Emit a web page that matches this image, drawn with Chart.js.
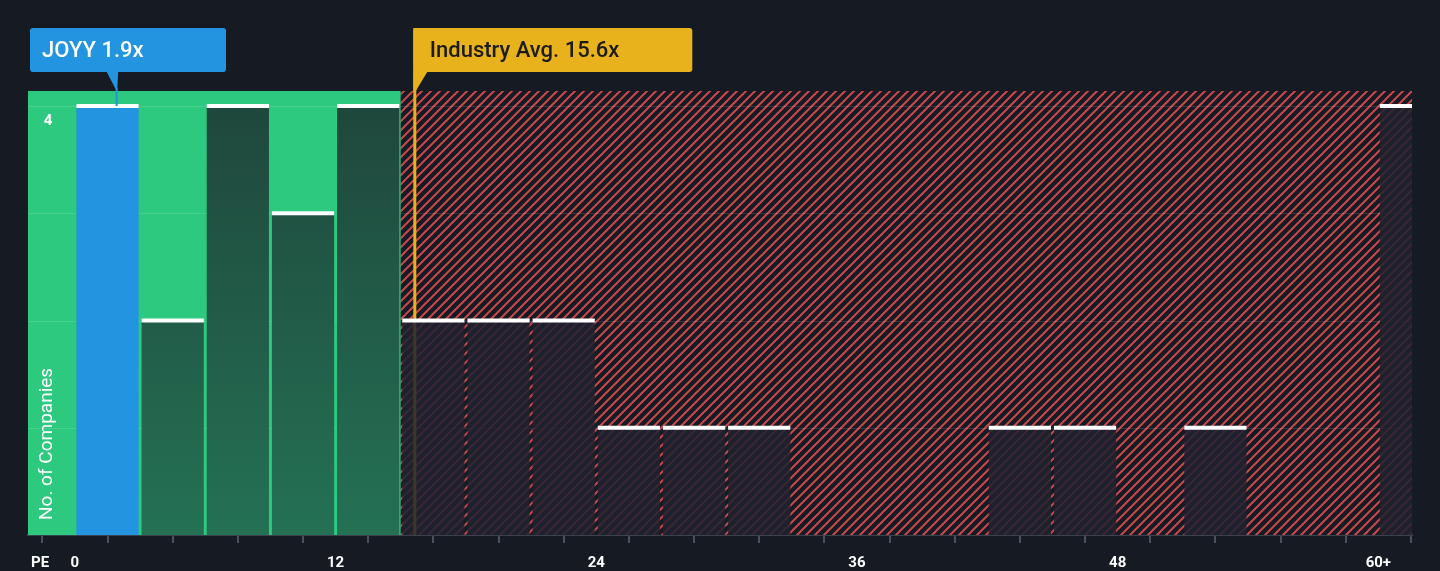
<!DOCTYPE html>
<html>
<head>
<meta charset="utf-8">
<script src="https://cdn.jsdelivr.net/npm/chart.js@4/dist/chart.umd.min.js"></script>
<style>
  html, body { margin: 0; padding: 0; background: #151a23; }
  #wrap { width: 1440px; height: 571px; }
</style>
</head>
<body>
<div id="wrap"><canvas id="peChart"></canvas></div>
<script>
// PE histogram - bins of 3x, last bin is 60+
const binStarts = [0, 3, 6, 9, 12, 15, 18, 21, 24, 27, 30, 33, 36, 39, 42, 45, 48, 51, 54, 57, 60];
const binCounts = [4, 2, 4, 3, 4, 2, 2, 2, 1, 1, 1, 0, 0, 0, 1, 1, 0, 1, 0, 0, 4];
const xTickLabels = {0: '0', 12: '12', 24: '24', 36: '36', 48: '48', 60: '60+'};
const companyName = 'JOYY';
const companyPE = 1.9;
const industryPE = 15.6;
const fairLimit = 15; // green zone ends here

const BG = '#151a23';
const GREEN = '#2dc97e';
const BLUE = '#2394df';
const ORANGE = '#e8b21d';
const HATCH = '#c9484d';

function hatchPattern(ctx) {
  const s = 9;
  const c = document.createElement('canvas');
  c.width = s; c.height = s;
  const p = c.getContext('2d');
  p.fillStyle = BG;
  p.fillRect(0, 0, s, s);
  p.strokeStyle = HATCH;
  p.lineWidth = 2;
  p.beginPath();
  p.moveTo(-1, s + 1); p.lineTo(s + 1, -1);
  p.moveTo(-1, 1); p.lineTo(1, -1);
  p.moveTo(s - 1, s + 1); p.lineTo(s + 1, s - 1);
  p.stroke();
  return ctx.createPattern(c, 'repeat');
}

const backdrop = {
  id: 'backdrop',
  beforeDatasetsDraw(chart) {
    const {ctx, chartArea: a, scales: {x, y}} = chart;
    const split = x.getPixelForValue(fairLimit);
    ctx.save();
    ctx.fillStyle = GREEN;
    ctx.fillRect(a.left, a.top, split - a.left, a.bottom - a.top);
    ctx.fillStyle = hatchPattern(ctx);
    ctx.fillRect(split, a.top, a.right - split, a.bottom - a.top);
    // horizontal grid
    ctx.strokeStyle = 'rgba(255,255,255,0.12)';
    ctx.lineWidth = 1;
    [1, 2, 3, 4].forEach(v => {
      const py = Math.round(y.getPixelForValue(v)) + 0.5;
      ctx.beginPath(); ctx.moveTo(a.left, py); ctx.lineTo(a.right, py); ctx.stroke();
    });
    // industry average line (sits behind bars)
    const ix = x.getPixelForValue(industryPE) + 1;
    ctx.strokeStyle = ORANGE;
    ctx.lineWidth = 3;
    ctx.beginPath(); ctx.moveTo(ix, 28); ctx.lineTo(ix, a.bottom); ctx.stroke();
    ctx.restore();
  },
  afterDatasetsDraw(chart) {
    const {ctx, chartArea: a, scales: {x, y}} = chart;
    const meta = chart.getDatasetMeta(0);
    ctx.save();
    ctx.fillStyle = '#ffffff';
    meta.data.forEach((bar, i) => {
      if (!binCounts[i]) return;
      const left = bar.x - bar.width / 2;
      const right = Math.min(bar.x + bar.width / 2, a.right);
      ctx.fillRect(left, bar.y - 2, right - left, 4);
    });

    // y tick and title
    ctx.font = 'bold 15px Roboto';
    ctx.textAlign = 'center';
    ctx.textBaseline = 'middle';
    ctx.fillText('4', 48, y.getPixelForValue(4) + 15);
    ctx.save();
    ctx.translate(47, 520);
    ctx.rotate(-Math.PI / 2);
    ctx.font = '19px Roboto';
    ctx.textAlign = 'left';
    ctx.fillText('No. of Companies', 0, 0);
    ctx.restore();

    // PE label
    ctx.font = 'bold 15px Roboto';
    ctx.textAlign = 'left';
    ctx.fillText('PE', 31, 563);

    // company marker
    const cx = x.getPixelForValue(companyPE);
    ctx.fillStyle = BLUE;
    ctx.beginPath();
    ctx.roundRect(30, 28, 196, 44, 3);
    ctx.fill();
    ctx.beginPath();
    ctx.moveTo(cx - 10, 71); ctx.lineTo(cx + 2, 71); ctx.lineTo(cx + 1, 92); ctx.closePath();
    ctx.fill();
    ctx.fillRect(cx - 0.5, 88, 2, y.getPixelForValue(4) - 88);
    ctx.fillStyle = '#ffffff';
    ctx.font = '500 22px Roboto';
    ctx.textBaseline = 'middle';
    ctx.fillText(companyName + ' ' + companyPE + 'x', 42, 51);

    // industry marker
    const ix = x.getPixelForValue(industryPE) + 1;
    ctx.fillStyle = ORANGE;
    ctx.beginPath();
    ctx.roundRect(ix - 1.5, 28, 279, 44, 3);
    ctx.fill();
    ctx.beginPath();
    ctx.moveTo(ix - 1.5, 71); ctx.lineTo(ix + 13, 71); ctx.lineTo(ix + 1, 91); ctx.lineTo(ix - 1.5, 91); ctx.closePath();
    ctx.fill();
    ctx.fillStyle = '#1b1b1b';
    ctx.fillText('Industry Avg. ' + industryPE + 'x', ix + 15, 51);
    ctx.restore();
  }
};

function barColor(c) {
  const i = c.dataIndex;
  if (binStarts[i] === 0) return BLUE;
  const a = c.chart.chartArea;
  if (!a) return '#1f4a3e';
  if (binStarts[i] < fairLimit) {
    const g = c.chart.ctx.createLinearGradient(0, a.top, 0, a.bottom);
    g.addColorStop(0, '#1f463c');
    g.addColorStop(1, '#247154');
    return g;
  }
  return 'rgba(31,34,46,0.86)';
}

new Chart(document.getElementById('peChart'), {
  type: 'bar',
  data: {
    datasets: [{
      data: binStarts.map((b, i) => ({x: b + 1.5, y: binCounts[i] || null})),
      backgroundColor: barColor,
      borderWidth: 0,
      barPercentage: 0.955,
      categoryPercentage: 1
    }]
  },
  options: {
    responsive: true,
    maintainAspectRatio: false,
    animation: false,
    layout: {padding: {left: 28, right: 28, top: 91, bottom: 0}},
    plugins: {legend: {display: false}, tooltip: {enabled: false}},
    scales: {
      x: {
        type: 'linear',
        min: -2.16,
        max: 61.55,
        offset: false,
        afterFit: s => { s.height = 36; },
        border: {color: '#3b424d', width: 2},
        grid: {drawOnChartArea: false, color: '#4a515c', tickLength: 8, lineWidth: 2},
        ticks: {
          stepSize: 3,
          includeBounds: false,
          autoSkip: false,
          maxRotation: 0,
          padding: 11,
          color: '#ffffff',
          font: {family: 'Roboto', size: 15, weight: 'bold'},
          callback: v => xTickLabels[v] ?? ''
        }
      },
      y: {
        display: false,
        min: 0,
        max: 4.14
      }
    }
  },
  plugins: [backdrop]
});
</script>
</body>
</html>
